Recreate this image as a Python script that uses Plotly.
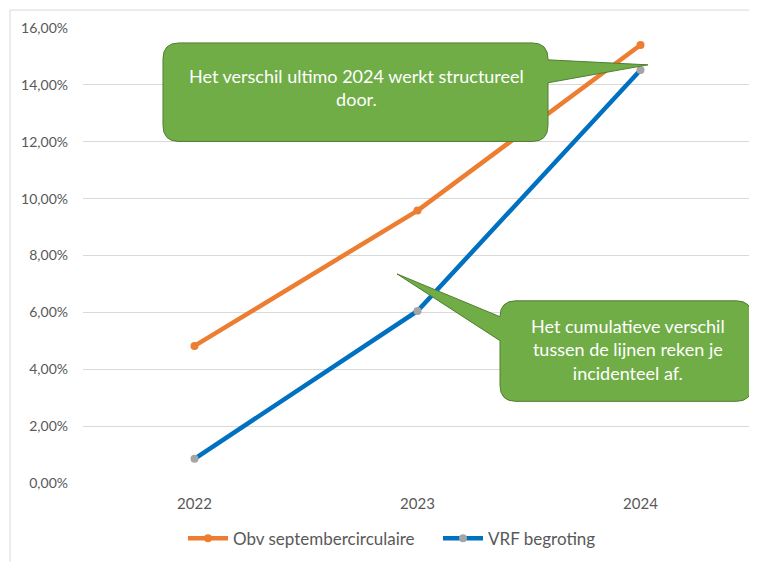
import plotly.graph_objects as go

years = ["2022", "2023", "2024"]
obv_sept = [0.0482, 0.0958, 0.1540]
vrf_begroting = [0.0085, 0.0605, 0.1452]
series_names = ["Obv septembercirculaire", "VRF begroting"]
y_ticks = [0, 0.02, 0.04, 0.06, 0.08, 0.10, 0.12, 0.14, 0.16]
callout_1 = "Het verschil ultimo 2024 werkt structureel<br>door."
callout_2 = "Het cumulatieve verschil<br>tussen de lijnen reken je<br>incidenteel af."

# page offset (browser body margin) compensation
OFF = 8
W, H = 757 - OFF, 562 - OFF
PL, PR, PT, PB = 83, 752, 28, 485          # plot area in screen pixels
ML, MR, MT, MB = PL - OFF, 757 - PR, PT - OFF, 562 - PB
PW, PH = PR - PL, PB - PT

def px(x):
    return (x - PL) / PW

def py(y):
    return (PB - y) / PH

def P(x, y):
    return f"{px(x):.5f},{py(y):.5f}"

def callout_path(L, T, R, B, r, pointer_side, p1, tip, p2):
    s = f"M {P(L + r, T)} L {P(R - r, T)} Q {P(R, T)} {P(R, T + r)} "
    if pointer_side == "right":
        s += f"L {P(R, p1)} L {P(*tip)} L {P(R, p2)} "
    s += f"L {P(R, B - r)} Q {P(R, B)} {P(R - r, B)} L {P(L + r, B)} Q {P(L, B)} {P(L, B - r)} "
    if pointer_side == "left":
        s += f"L {P(L, p1)} L {P(*tip)} L {P(L, p2)} "
    s += f"L {P(L, T + r)} Q {P(L, T)} {P(L + r, T)} Z"
    return s

FONT = "Lato"

fig = go.Figure()
fig.add_trace(go.Scatter(
    x=years, y=obv_sept, name=series_names[0], mode="lines+markers",
    line=dict(color="#ED7D31", width=4.5),
    marker=dict(color="#ED7D31", size=8),
))
fig.add_trace(go.Scatter(
    x=years, y=vrf_begroting, name=series_names[1], mode="lines+markers",
    line=dict(color="#0070C0", width=4.5),
    marker=dict(color="#A5A5A5", size=8),
))

shapes = [
    dict(type="rect", xref="paper", yref="paper",
         x0=px(10), x1=px(800), y0=py(10), y1=py(620),
         line=dict(color="#D9D9D9", width=1), fillcolor="rgba(0,0,0,0)", layer="below"),
    dict(type="path", xref="paper", yref="paper",
         path=callout_path(163, 43, 548, 142, 16, "right", 60, (648, 65), 83),
         fillcolor="#70AD47", line=dict(color="#507E32", width=1), layer="above"),
    dict(type="path", xref="paper", yref="paper",
         path=callout_path(500, 302, 752, 403, 16, "left", 342, (397, 275), 318),
         fillcolor="#70AD47", line=dict(color="#507E32", width=1), layer="above"),
]

annotations = [
    dict(xref="paper", yref="paper", x=px(356), y=py(88), text=callout_1,
         showarrow=False, align="center", xanchor="center", yanchor="middle",
         font=dict(family=FONT, size=18, color="#FFFFFF")),
    dict(xref="paper", yref="paper", x=px(628), y=py(351), text=callout_2,
         showarrow=False, align="center", xanchor="center", yanchor="middle",
         font=dict(family=FONT, size=18, color="#FFFFFF")),
]

fig.update_layout(
    width=W, height=H,
    margin=dict(l=ML, r=MR, t=MT, b=MB),
    paper_bgcolor="white", plot_bgcolor="white",
    separators=",.",
    font=dict(family=FONT, size=14, color="#595959"),
    shapes=shapes, annotations=annotations,
    showlegend=True,
    legend=dict(orientation="h", x=px(183), xanchor="left", y=py(541), yanchor="middle",
                font=dict(family=FONT, size=17, color="#595959"),
                entrywidth=200, entrywidthmode="pixels",
                itemwidth=40, tracegroupgap=0),
    xaxis=dict(type="category", range=[-0.5, 2.5], showgrid=False, zeroline=False,
               showline=False, ticks="", ticklabelstandoff=10,
               tickfont=dict(family=FONT, size=15, color="#595959")),
    yaxis=dict(range=[0, 0.16], tickvals=y_ticks, tickformat=".2%",
               showgrid=True, gridcolor="#D9D9D9", gridwidth=1, zeroline=False,
               showline=False, ticks="", ticklabelstandoff=14,
               tickfont=dict(family=FONT, size=14, color="#595959")),
)

fig.write_html("out.html")
